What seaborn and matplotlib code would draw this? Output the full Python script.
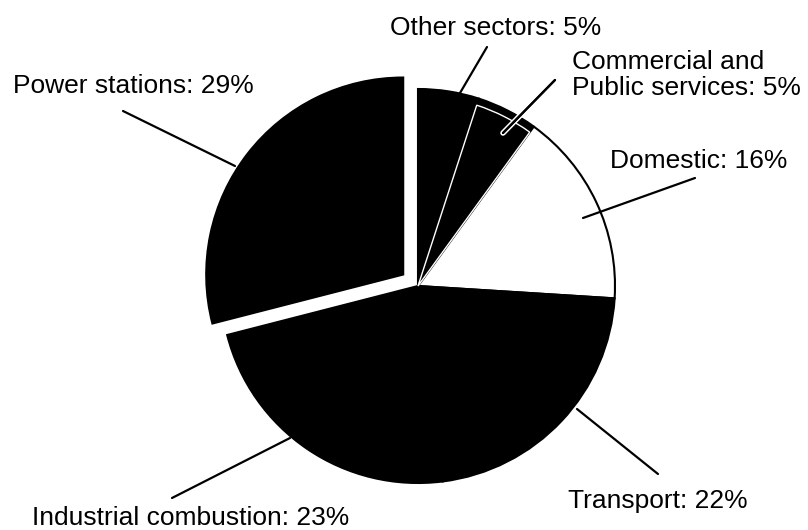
import matplotlib
matplotlib.use("Agg")
import matplotlib.pyplot as plt
import matplotlib.patheffects as pe
import seaborn as sns

sns.set_theme(style="white")
plt.rcParams['font.family'] = ['Liberation Sans', 'DejaVu Sans']

# Data
sectors = ["Other sectors", "Commercial and\nPublic services", "Domestic",
           "Transport", "Industrial combustion", "Power stations"]
shares = [5, 5, 16, 22, 23, 29]
explode_frac = [0, 0, 0, 0, 0, 0.095]
colors = ["black", "black", "white", "black", "black", "black"]

W, H = 808, 530
fig = plt.figure(figsize=(W / 100, H / 100), dpi=100)
ax = fig.add_axes([0, 0, 1, 1])

cx, cy, R = 418, H - 286, 197
explode = [e * R for e in explode_frac]  # matplotlib's explode is absolute offset
wedges, _ = ax.pie(shares, explode=explode, colors=colors, startangle=90,
                   counterclock=False, center=(cx, cy), radius=R,
                   wedgeprops=dict(edgecolor="black", linewidth=1.5))

# white inset outline on the Commercial wedge
w2, _ = ax.pie(shares, explode=explode, colors=["none"] * len(shares), startangle=90,
               counterclock=False, center=(cx, cy), radius=R * 0.965,
               wedgeprops=dict(linewidth=1.0))
for i, w in enumerate(w2):
    w.set_edgecolor("white" if i == 1 else "none")
    w.set_facecolor("none")

ax.set_xlim(0, W)
ax.set_ylim(0, H)
ax.set_aspect("auto")
ax.axis("off")

fs = 19
labels = [
    ("Other sectors: 5%", 390, 35, [(487, 47), (460, 93)]),
    ("Commercial and\nPublic services: 5%", 572, 95, [(555, 80), (503, 133)]),
    ("Domestic: 16%", 610, 168, [(695, 178), (583, 218)]),
    ("Transport: 22%", 568, 508, [(658, 474), (577, 409)]),
    ("Industrial combustion: 23%", 32, 525, [(172, 498), (290, 438)]),
    ("Power stations: 29%", 13, 93, [(123, 111), (235, 166)]),
]
for i, (txt, x, yb, line) in enumerate(labels):
    ax.text(x, H - yb, txt, fontsize=fs, ha="left", va="baseline",
            color="black", linespacing=1.1)
    (x0, y0), (x1, y1) = line
    ln, = ax.plot([x0, x1], [H - y0, H - y1], color="black", lw=1.6,
                  solid_capstyle="round")
    if i == 1:
        ln.set_path_effects([pe.withStroke(linewidth=4, foreground="white"), pe.Normal()])

fig.savefig("out.png", dpi=100, facecolor="white")
